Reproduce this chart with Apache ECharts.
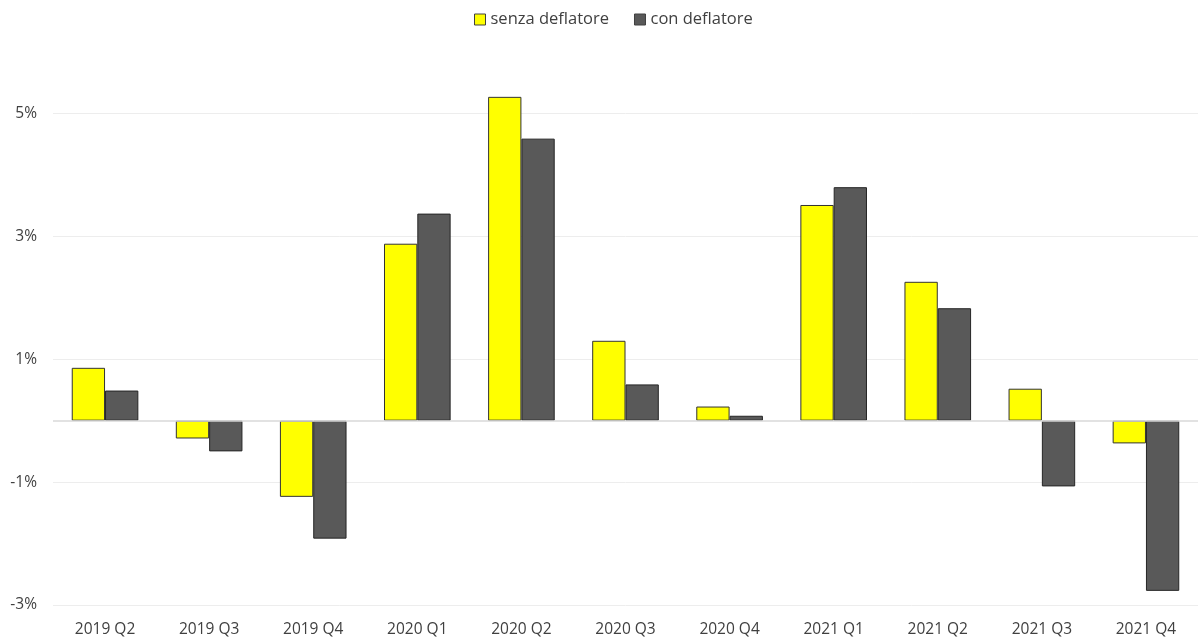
<!DOCTYPE html>
<html>
<head>
<meta charset="utf-8">
<script src="https://cdn.jsdelivr.net/npm/echarts@6/dist/echarts.min.js"></script>
<style>
html,body{margin:0;padding:0;background:#fff;}
#chart{width:1198px;height:639px;}
</style>
</head>
<body>
<div id="chart"></div>
<script>
const categories = ['2019 Q2','2019 Q3','2019 Q4','2020 Q1','2020 Q2','2020 Q3','2020 Q4','2021 Q1','2021 Q2','2021 Q3','2021 Q4'];
const senzaDeflatore = [0.86, -0.29, -1.24, 2.88, 5.27, 1.30, 0.23, 3.51, 2.26, 0.52, -0.37];
const conDeflatore = [0.49, -0.50, -1.92, 3.37, 4.59, 0.59, 0.08, 3.80, 1.83, -1.07, -2.77];
const tickValues = [-3, -1, 1, 3, 5];

const chart = echarts.init(document.getElementById('chart'));
const font = 'Open Sans, Liberation Sans, Arial, sans-serif';
chart.setOption({
  animation: false,
  textStyle: {fontFamily: font},
  legend: {
    top: 6, left: 469,
    itemWidth: 11, itemHeight: 11, itemGap: 25,
    textStyle: {fontSize: 16.5, color: '#404040', fontFamily: font},
    data: [
      {name: 'senza deflatore', icon: 'rect', itemStyle: {color: '#ffff00', borderColor: '#404040', borderWidth: 1}},
      {name: 'con deflatore', icon: 'rect', itemStyle: {color: '#595959', borderColor: '#404040', borderWidth: 1}}
    ]
  },
  grid: {left: 53, right: 0, top: 52, bottom: 34, containLabel: false},
  xAxis: {
    type: 'category',
    data: categories,
    axisLine: {show: false},
    axisTick: {show: false},
    axisLabel: {fontSize: 15.5, color: '#404040', margin: 17, fontFamily: font}
  },
  yAxis: {
    type: 'value',
    min: -3, max: 6,
    axisLine: {show: false},
    axisTick: {show: false, customValues: tickValues},
    axisLabel: {customValues: tickValues, fontSize: 15.5, color: '#404040', margin: 16, fontFamily: font,
      formatter: v => v + '%'},
    splitLine: {show: true, lineStyle: {color: '#ededed', width: 1}}
  },
  series: [
    {
      name: 'senza deflatore', type: 'bar', data: senzaDeflatore,
      barGap: '0%', barCategoryGap: '36%',
      itemStyle: {color: '#ffff00', borderColor: '#333333', borderWidth: 1},
      markLine: {
        silent: true, symbol: 'none', label: {show: false},
        lineStyle: {color: '#d9d9d9', type: 'solid', width: 1.5},
        data: [{yAxis: 0}]
      }
    },
    {
      name: 'con deflatore', type: 'bar', data: conDeflatore,
      barGap: '0%', barCategoryGap: '36%',
      itemStyle: {color: '#595959', borderColor: '#262626', borderWidth: 1}
    }
  ]
});
</script>
</body>
</html>
